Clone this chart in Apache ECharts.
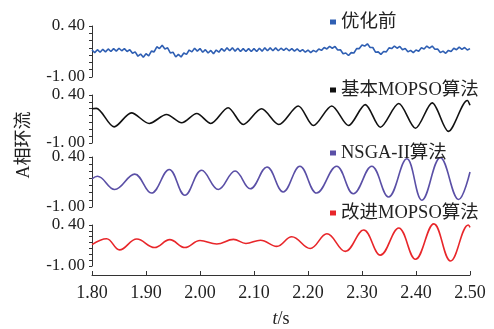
<!DOCTYPE html>
<html>
<head>
<meta charset="utf-8">
<script src="https://cdn.jsdelivr.net/npm/echarts@6/dist/echarts.min.js"></script>
<style>
  html, body { margin: 0; padding: 0; background: #fff; }
  #chart { width: 494px; height: 329px; }
</style>
</head>
<body>
<div id="chart"></div>
<script>
// 各曲线名称
var seriesNames = ['优化前', '基本MOPSO算法', 'NSGA-II算法', '改进MOPSO算法'];
var seriesColors = ['#2f5fb3', '#111111', '#5a4fa6', '#e8262a'];
// 横轴刻度 (s)
var xTicks = [1.80, 1.90, 2.00, 2.10, 2.20, 2.30, 2.40, 2.50];
// 纵轴刻度标签
var yTickLabels = ['-1.00', '0.40'];

// 优化前：1.80s 起每 0.005s 一个读数
var p1Start = 1.80, p1Step = 0.005;
var p1Values = [-0.26,-0.33,-0.25,-0.32,-0.24,-0.31,-0.23,-0.30,-0.22,-0.29,
  -0.21,-0.28,-0.22,-0.30,-0.25,-0.35,-0.31,-0.43,-0.37,-0.46,
  -0.36,-0.42,-0.29,-0.31,-0.17,-0.22,-0.13,-0.23,-0.20,-0.34,
  -0.32,-0.45,-0.38,-0.45,-0.34,-0.38,-0.26,-0.31,-0.21,-0.29,
  -0.22,-0.32,-0.25,-0.34,-0.27,-0.36,-0.26,-0.32,-0.22,-0.29,
  -0.20,-0.28,-0.20,-0.29,-0.21,-0.30,-0.22,-0.30,-0.22,-0.30,
  -0.22,-0.30,-0.21,-0.29,-0.20,-0.28,-0.20,-0.28,-0.20,-0.28,
  -0.21,-0.27,-0.21,-0.28,-0.22,-0.29,-0.23,-0.30,-0.25,-0.32,
  -0.26,-0.33,-0.27,-0.31,-0.23,-0.27,-0.19,-0.23,-0.16,-0.21,
  -0.16,-0.26,-0.25,-0.36,-0.34,-0.41,-0.33,-0.34,-0.22,-0.22,
  -0.12,-0.15,-0.09,-0.19,-0.19,-0.32,-0.31,-0.38,-0.30,-0.31,
  -0.20,-0.22,-0.15,-0.21,-0.16,-0.25,-0.22,-0.31,-0.27,-0.33,
  -0.26,-0.29,-0.20,-0.23,-0.15,-0.21,-0.15,-0.24,-0.23,-0.33,
  -0.29,-0.35,-0.27,-0.30,-0.21,-0.25,-0.18,-0.24,-0.19,-0.26,
  -0.22];

// 其余三条：峰谷点 [t, 值]
var p2Points = [[1.800,0.00],[1.808,0.01],[1.841,-0.53],[1.873,-0.12],[1.906,-0.43],
  [1.938,-0.17],[1.966,-0.41],[1.994,-0.14],[2.020,-0.43],[2.052,0.03],[2.080,-0.46],
  [2.114,0.00],[2.146,-0.46],[2.182,0.08],[2.210,-0.49],[2.244,0.08],[2.275,-0.49],
  [2.306,0.12],[2.334,-0.54],[2.368,0.15],[2.399,-0.57],[2.430,0.17],[2.460,-0.66],
  [2.495,0.24],[2.500,0.10]];
var p3Points = [[1.800,-0.21],[1.810,-0.14],[1.842,-0.51],[1.879,-0.08],[1.910,-0.61],
  [1.943,0.05],[1.972,-0.67],[2.003,0.03],[2.034,-0.51],[2.065,0.01],[2.093,-0.49],
  [2.124,0.12],[2.154,-0.58],[2.185,0.14],[2.216,-0.61],[2.253,0.14],[2.284,-0.63],
  [2.318,0.14],[2.349,-0.72],[2.383,0.35],[2.411,-0.81],[2.445,0.38],[2.479,-0.79],
  [2.500,-0.02]];
var p4Points = [[1.800,-0.27],[1.827,-0.07],[1.851,-0.45],[1.883,-0.08],[1.916,-0.37],
  [1.944,-0.10],[1.972,-0.37],[2.000,-0.13],[2.031,-0.25],[2.062,-0.09],[2.085,-0.23],
  [2.112,-0.12],[2.142,-0.33],[2.170,0.00],[2.204,-0.40],[2.235,0.10],[2.269,-0.50],
  [2.303,0.23],[2.334,-0.63],[2.368,0.30],[2.399,-0.77],[2.433,0.44],[2.464,-0.83],
  [2.497,0.40],[2.500,0.32]];

var p1Points = [];
for (var i = 0; i < p1Values.length; i++) {
  p1Points.push([+(p1Start + i * p1Step).toFixed(3), p1Values[i]]);
}
var allPoints = [p1Points, p2Points, p3Points, p4Points];
var smoothness = [false, 0.3, 0.4, 0.4];

var serif = '"Liberation Serif","Noto Sans CJK SC",serif';
// 四个子图的位置
var panelTop = [26, 95, 157, 225];
var panelHeight = [51, 48, 50, 47];
var legendTop = [12, 80, 143, 203];

var myChart = echarts.init(document.getElementById('chart'), null, {renderer: 'canvas'});

var grids = [], xAxes = [], yAxes = [], series = [], legends = [];
for (var k = 0; k < 4; k++) {
  grids.push({left: 92, right: 24, top: panelTop[k], height: panelHeight[k]});
  var last = (k === 3);
  xAxes.push({
    type: 'value', gridIndex: k, min: xTicks[0], max: xTicks[xTicks.length - 1], interval: 0.1,
    show: last, offset: 9,
    name: last ? '{i|t}/s' : '', nameLocation: 'middle', nameGap: 35,
    nameTextStyle: {fontFamily: serif, fontSize: 18, color: '#222',
      rich: {i: {fontFamily: serif, fontSize: 18, fontStyle: 'italic', color: '#222'}}},
    axisLine: {show: true, onZero: false, lineStyle: {color: '#333', width: 1}},
    axisTick: {show: true, inside: true, length: 4, lineStyle: {color: '#333'}},
    axisLabel: {fontFamily: serif, fontSize: 18, color: '#222', margin: 9,
      formatter: function (v) { return v.toFixed(2); }},
    splitLine: {show: false}
  });
  yAxes.push({
    type: 'value', gridIndex: k, min: -1, max: 0.4, interval: 0.2,
    axisLine: {show: true, onZero: false, lineStyle: {color: '#333', width: 1}},
    axisTick: {show: true, inside: false, length: 3, lineStyle: {color: '#333'}},
    axisLabel: {fontFamily: serif, fontSize: 17, color: '#222', margin: 7, padding: [0, 0, 8, 0],
      formatter: function (v) {
        if (Math.abs(v - 0.4) < 1e-6) return yTickLabels[1].replace('.', '.\u2009');
        if (Math.abs(v + 1) < 1e-6) return yTickLabels[0].replace('.', '.\u2009');
        return '';
      }},
    splitLine: {show: false}
  });
  series.push({
    name: seriesNames[k], type: 'line', xAxisIndex: k, yAxisIndex: k,
    data: allPoints[k], showSymbol: false, symbol: 'none', clip: false,
    smooth: smoothness[k],
    itemStyle: {color: seriesColors[k]},
    lineStyle: {color: seriesColors[k], width: 1.6}
  });
  legends.push({
    data: [seriesNames[k]], left: 330, top: legendTop[k], padding: 0,
    icon: 'rect', itemWidth: 6, itemHeight: 5,
    textStyle: {fontFamily: serif, fontSize: 18.5, color: '#222', lineHeight: 20}
  });
}

var option = {
  animation: false,
  backgroundColor: '#fff',
  grid: grids,
  xAxis: xAxes,
  yAxis: yAxes,
  legend: legends,
  series: series,
  graphic: [{
    type: 'text', x: 24, y: 145, rotation: Math.PI / 2,
    style: {text: 'A相环流', font: '18px ' + serif, fill: '#222', align: 'center', verticalAlign: 'middle'}
  }]
};
myChart.setOption(option);
</script>
</body>
</html>
